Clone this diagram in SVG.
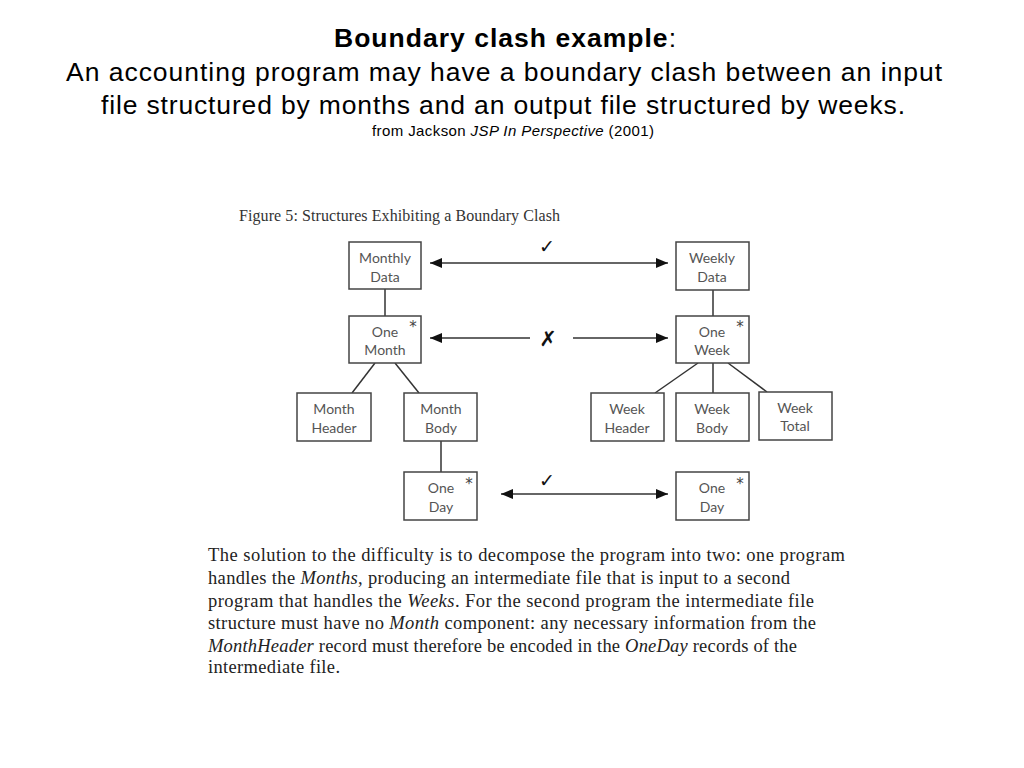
<svg xmlns="http://www.w3.org/2000/svg" width="1024" height="768" viewBox="0 0 1024 768">
<style>
.title{font-family:"Liberation Sans",Arial,sans-serif;font-size:26.5px;fill:#000}
.src{font-family:"Liberation Sans",Arial,sans-serif;font-size:15px;fill:#000}
.cap{font-family:"Liberation Serif","Times New Roman",serif;font-size:16px;fill:#333}
.para{font-family:"Liberation Serif","Times New Roman",serif;font-size:18.5px;fill:#222}
.box{fill:#fff;stroke:#444;stroke-width:1.5}
.lbl{font-family:Lato,"DejaVu Sans",sans-serif;font-size:14px;fill:#555;text-anchor:middle}
.ast{font-family:"DejaVu Sans",sans-serif;font-size:15px;fill:#444;text-anchor:middle}
.ln{stroke:#333;stroke-width:1.5;fill:none}
.mk{font-family:"DejaVu Sans",sans-serif;fill:#111;text-anchor:middle}
</style>
<defs>
<marker id="ah" viewBox="0 0 12 10" refX="12" refY="5" markerWidth="12" markerHeight="10" markerUnits="userSpaceOnUse" orient="auto-start-reverse">
<path d="M0,0 L12,5 L0,10 Z" fill="#111"/>
</marker>
</defs>
<rect width="1024" height="768" fill="#fff"/>

<text class="title" x="334" y="47" textLength="342"><tspan font-weight="bold">Boundary clash example</tspan>:</text>
<text class="title" x="66" y="81" textLength="876">An accounting program may have a boundary clash between an input</text>
<text class="title" x="101" y="114" textLength="804">file structured by months and an output file structured by weeks.</text>
<text class="src" x="372" y="136" textLength="282">from Jackson <tspan font-style="italic">JSP In Perspective</tspan> (2001)</text>

<text class="cap" x="239" y="221" textLength="321">Figure 5: Structures Exhibiting a Boundary Clash</text>

<g id="connectors">
<line class="ln" x1="385" y1="289" x2="385" y2="316"/>
<line class="ln" x1="375" y1="363" x2="352" y2="393"/>
<line class="ln" x1="395" y1="363" x2="419" y2="393"/>
<line class="ln" x1="441" y1="441" x2="441" y2="472"/>
<line class="ln" x1="713" y1="290" x2="713" y2="316"/>
<line class="ln" x1="698" y1="363" x2="655" y2="393"/>
<line class="ln" x1="713" y1="363" x2="713" y2="393"/>
<line class="ln" x1="728" y1="363" x2="767" y2="392"/>
<line class="ln" x1="430" y1="263" x2="668" y2="263" marker-start="url(#ah)" marker-end="url(#ah)"/>
<line class="ln" x1="430" y1="338" x2="530" y2="338" marker-start="url(#ah)"/>
<line class="ln" x1="573" y1="338" x2="668" y2="338" marker-end="url(#ah)"/>
<line class="ln" x1="501" y1="494" x2="668" y2="494" marker-start="url(#ah)" marker-end="url(#ah)"/>
<text class="mk" x="547" y="253" font-size="19" font-weight="bold">✓</text>
<text class="mk" x="548" y="346" font-size="21" font-style="italic" font-weight="bold">✗</text>
<text class="mk" x="547" y="487" font-size="19" font-weight="bold">✓</text>
</g>

<g id="monthly-data"><rect class="box" x="349" y="242" width="72" height="47"/><text class="lbl" x="385" y="263">Monthly</text><text class="lbl" x="385" y="282">Data</text></g>
<g id="one-month"><rect class="box" x="349" y="316" width="72" height="47"/><text class="lbl" x="385" y="337">One</text><text class="lbl" x="385" y="355">Month</text><text class="ast" x="413" y="332">*</text></g>
<g id="month-header"><rect class="box" x="297" y="393" width="74" height="48"/><text class="lbl" x="334" y="414">Month</text><text class="lbl" x="334" y="433">Header</text></g>
<g id="month-body"><rect class="box" x="404" y="393" width="73" height="48"/><text class="lbl" x="441" y="414">Month</text><text class="lbl" x="441" y="433">Body</text></g>
<g id="one-day-left"><rect class="box" x="404" y="472" width="73" height="48"/><text class="lbl" x="441" y="493">One</text><text class="lbl" x="441" y="512">Day</text><text class="ast" x="469" y="489">*</text></g>

<g id="weekly-data"><rect class="box" x="676" y="242" width="73" height="48"/><text class="lbl" x="712" y="263">Weekly</text><text class="lbl" x="712" y="282">Data</text></g>
<g id="one-week"><rect class="box" x="676" y="316" width="73" height="47"/><text class="lbl" x="712" y="337">One</text><text class="lbl" x="712" y="355">Week</text><text class="ast" x="740" y="332">*</text></g>
<g id="week-header"><rect class="box" x="591" y="393" width="73" height="48"/><text class="lbl" x="627" y="414">Week</text><text class="lbl" x="627" y="433">Header</text></g>
<g id="week-body"><rect class="box" x="676" y="393" width="73" height="48"/><text class="lbl" x="712" y="414">Week</text><text class="lbl" x="712" y="433">Body</text></g>
<g id="week-total"><rect class="box" x="759" y="392" width="73" height="48"/><text class="lbl" x="795" y="413">Week</text><text class="lbl" x="795" y="431">Total</text></g>
<g id="one-day-right"><rect class="box" x="676" y="472" width="73" height="48"/><text class="lbl" x="712" y="493">One</text><text class="lbl" x="712" y="512">Day</text><text class="ast" x="740" y="489">*</text></g>

<g id="paragraph">
<text class="para" x="208" y="561" textLength="637">The solution to the difficulty is to decompose the program into two:  one program</text>
<text class="para" x="208" y="584" textLength="582">handles the <tspan font-style="italic">Months</tspan>, producing an intermediate file that is input to a second</text>
<text class="para" x="208" y="607" textLength="606">program that handles the <tspan font-style="italic">Weeks</tspan>. For the second program the intermediate file</text>
<text class="para" x="208" y="629" textLength="608">structure must have no <tspan font-style="italic">Month</tspan> component: any necessary information from the</text>
<text class="para" x="208" y="652" textLength="589"><tspan font-style="italic">MonthHeader</tspan> record must therefore be encoded in the <tspan font-style="italic">OneDay</tspan> records of the</text>
<text class="para" x="208" y="673" textLength="132">intermediate file.</text>
</g>
</svg>
